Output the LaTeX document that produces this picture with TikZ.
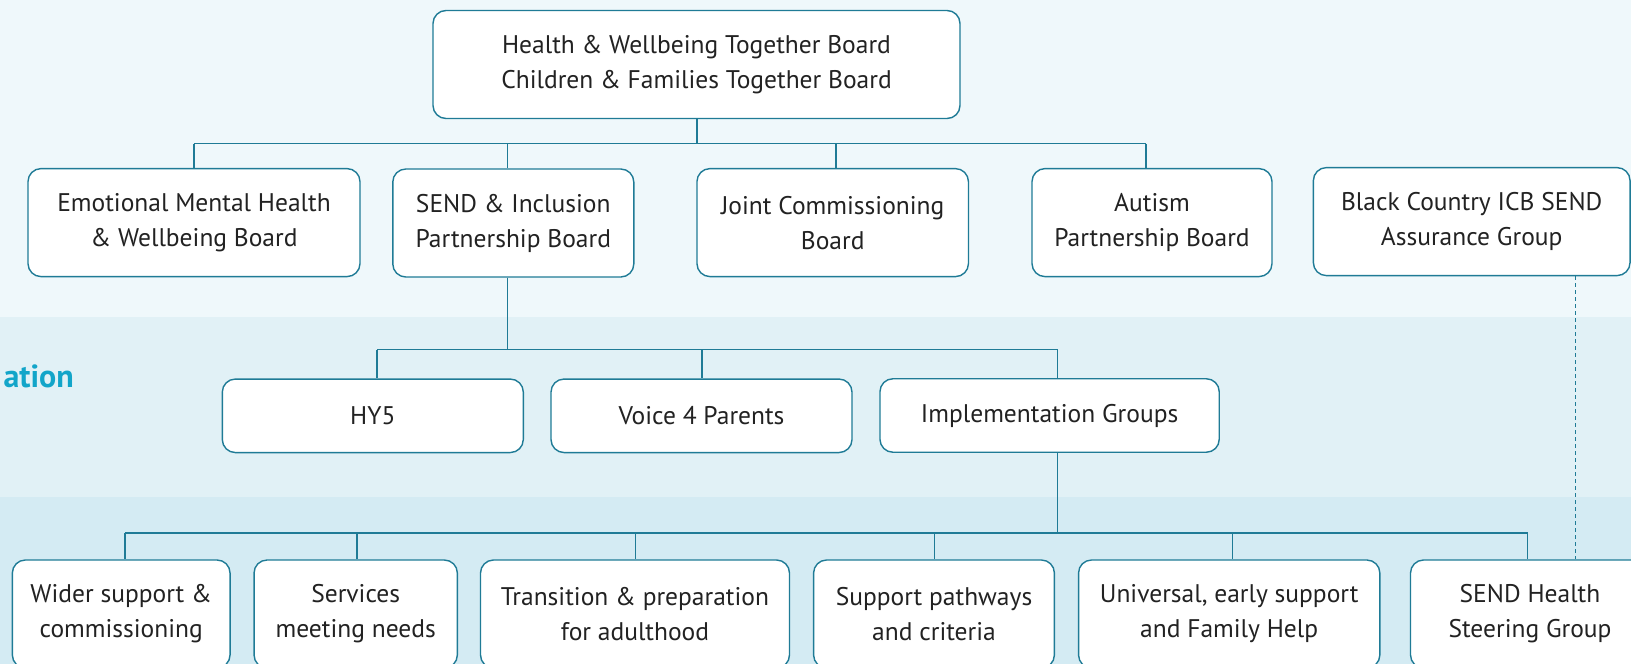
\documentclass[tikz,border=0pt]{standalone}
\usepackage{fontspec}
\setmainfont{PT Sans}
\definecolor{bandA}{HTML}{EFF8FB}
\definecolor{bandB}{HTML}{E1F1F6}
\definecolor{bandC}{HTML}{D4EBF3}
\definecolor{edge}{HTML}{1F7B96}
\definecolor{ink}{HTML}{222222}
\definecolor{head}{HTML}{12A5C9}
\tikzset{
  board/.style={draw=edge, line width=1.4pt, fill=white, rounded corners=13pt,
    align=center, text=ink, inner sep=0pt, font=\fontsize{25.5}{35}\selectfont},
  link/.style={draw=edge, line width=1.4pt},
  dotlink/.style={draw=edge, line width=1.2pt, dash pattern=on 4pt off 3pt},
}
\begin{document}
\begin{tikzpicture}[x=1pt,y=-1pt]
\useasboundingbox (0,0) rectangle (1631,664);
\clip (0,0) rectangle (1631,664);
\fill[bandA] (0,0) rectangle (1631,317);
\fill[bandB] (0,317) rectangle (1631,497);
\fill[bandC] (0,497) rectangle (1631,664);

\node[anchor=east, text=head, font=\fontsize{32}{36}\selectfont\bfseries, inner sep=0pt] (lvl) at (74,376) {ation};

% top
\node[board, minimum width=527, minimum height=108] (top) at (696.5,64.5) {Health \& Wellbeing Together Board\\Children \& Families Together Board};

% boards
\node[board, minimum width=332, minimum height=108] (emh) at (194,222.6) {Emotional Mental Health\\\& Wellbeing Board};
\node[board, minimum width=241, minimum height=108] (send) at (513.3,223) {SEND \& Inclusion\\Partnership Board};
\node[board, minimum width=271.5, minimum height=108] (jcb) at (832.7,222.6) {Joint Commissioning\\Board};
\node[board, minimum width=240, minimum height=108] (apb) at (1152,222.6) {Autism\\Partnership Board};
\node[board, minimum width=316.7, minimum height=108] (bc) at (1471.7,221.6) {Black Country ICB SEND\\Assurance Group};

% partnership groups
\node[board, minimum width=301, minimum height=73.5] (hy5) at (372.8,415.8) {HY5};
\node[board, minimum width=301, minimum height=73.5] (v4p) at (701.5,415.8) {Voice 4 Parents};
\node[board, minimum width=339.3, minimum height=73.5] (impl) at (1049.6,415.5) {Implementation Groups};

% implementation groups
\node[board, minimum width=217.7, minimum height=108] (wider) at (121.2,614) {Wider support \&\\commissioning};
\node[board, minimum width=203.3, minimum height=108] (serv) at (355.7,614) {Services\\meeting needs};
\node[board, minimum width=309, minimum height=108] (trans) at (635,614) {Transition \& preparation\\for adulthood};
\node[board, minimum width=240.8, minimum height=108] (path) at (934,614) {Support pathways\\and criteria};
\node[board, minimum width=301.3, minimum height=108] (univ) at (1229.2,614) {Universal, early support\\and Family Help};
\node[board, minimum width=239, minimum height=108] (sendh) at (1530,614) {SEND Health\\Steering Group};

\coordinate (hub1) at (697,143.5);
\coordinate (tapemh) at (193.8,143.5);
\coordinate (tapsend) at (507.7,143.5);
\coordinate (tapjcb) at (836,143.5);
\coordinate (tapapb) at (1146,143.5);
\path[link] (hub1 |- top.south) -- (hub1);
\path[link] (tapemh) -- (tapapb);
\path[link] (tapemh) -- (tapemh |- emh.north);
\path[link] (tapsend) -- (tapsend |- send.north);
\path[link] (tapjcb) -- (tapjcb |- jcb.north);
\path[link] (tapapb) -- (tapapb |- apb.north);

\coordinate (hub2) at (507.7,349.7);
\coordinate (taphy5) at (377,349.7);
\coordinate (tapv4p) at (702,349.7);
\coordinate (tapimpl) at (1057.7,349.7);
\path[link] (hub2 |- send.south) -- (hub2);
\path[link] (taphy5) -- (tapimpl);
\path[link] (taphy5) -- (taphy5 |- hy5.north);
\path[link] (tapv4p) -- (tapv4p |- v4p.north);
\path[link] (tapimpl) -- (tapimpl |- impl.north);

\coordinate (hub3) at (1057.7,533);
\coordinate (tapwider) at (125,533);
\coordinate (tapserv) at (357,533);
\coordinate (taptrans) at (635.6,533);
\coordinate (tappath) at (934.2,533);
\coordinate (tapuniv) at (1232.7,533);
\coordinate (tapsendh) at (1527.7,533);
\path[link] (hub3 |- impl.south) -- (hub3);
\path[link] (tapwider) -- (tapsendh);
\path[link] (tapwider) -- (tapwider |- wider.north);
\path[link] (tapserv) -- (tapserv |- serv.north);
\path[link] (taptrans) -- (taptrans |- trans.north);
\path[link] (tappath) -- (tappath |- path.north);
\path[link] (tapuniv) -- (tapuniv |- univ.north);
\path[link] (tapsendh) -- (tapsendh |- sendh.north);

\coordinate (dotbc) at (1575.3,300);
\path[dotlink] (dotbc |- bc.south) -- (dotbc |- sendh.north);
\end{tikzpicture}
\end{document}
